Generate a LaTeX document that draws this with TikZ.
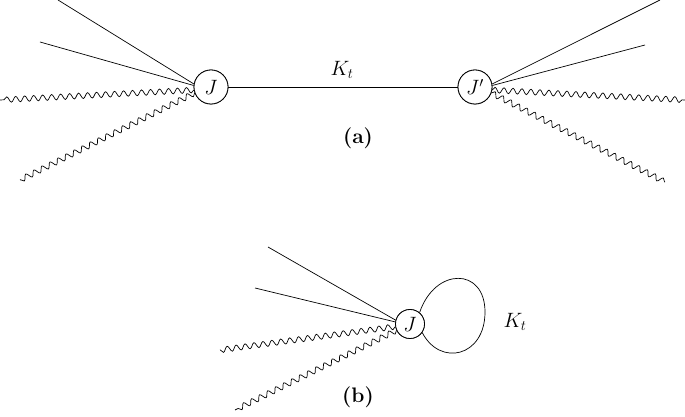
\documentclass[tikz,border=0pt]{standalone}
\usetikzlibrary{decorations.pathmorphing}
\begin{document}
\begin{tikzpicture}[x=1pt,y=1pt,
  big/.style={font=\fontsize{21}{25}\selectfont},
  vtx/.style={circle,draw,thick,fill=white,minimum size=34pt,inner sep=0pt,big},
  vtxs/.style={circle,draw,thick,fill=white,minimum size=29pt,inner sep=0pt,big},
  wavy/.style={decorate,decoration={snake,amplitude=2.8pt,segment length=9pt}},
  ln/.style={line width=0.7pt}]
\useasboundingbox (0,0) rectangle (685,417);
\coordinate (a1) at (58,417); \coordinate (a2) at (40,375);
\coordinate (a3) at (0,317); \coordinate (a4) at (20,237);
\coordinate (b1) at (660,417); \coordinate (b2) at (645,372);
\coordinate (b3) at (685,317); \coordinate (b4) at (665,235);
\coordinate (c1) at (268,170); \coordinate (c2) at (255,129);
\coordinate (c3) at (220,67); \coordinate (c4) at (235,7);
\node[vtx] (J) at (211,330) {$J$};
\node[vtx] (Jp) at (475,330) {$J'$};
\draw[ln] (J) -- (Jp);
\node[big] (K) at (342,347) {$K_t$};
\draw[ln] (a1) -- (J.170); \draw[ln] (a2) -- (J.175);
\draw[ln,wavy] (J.190) -- (a3); \draw[ln,wavy] (J.200) -- (a4);
\draw[ln] (b1) -- (Jp.10); \draw[ln] (b2) -- (Jp.5);
\draw[ln,wavy] (Jp.350) -- (b3); \draw[ln,wavy] (Jp.340) -- (b4);
\node[vtx] at (211,330) {$J$};
\node[vtx] at (475,330) {$J'$};
\node[big,font=\fontsize{21}{25}\selectfont\bfseries] (la) at (358,279) {(a)};
\node[vtxs] (Jb) at (410,93) {$J$};
\draw[ln] (c1) -- (Jb.165); \draw[ln] (c2) -- (Jb.172);
\draw[ln,wavy] (Jb.190) -- (c3); \draw[ln,wavy] (Jb.205) -- (c4);
\draw[ln] (Jb.50) .. controls (435,150) and (485,150) .. (485,105)
  .. controls (485,60) and (440,50) .. (Jb.-35);
\node[vtxs] at (410,93) {$J$};
\node[big] (Kb) at (515,95) {$K_t$};
\node[font=\fontsize{21}{25}\selectfont\bfseries] (lb) at (358,20) {(b)};
\end{tikzpicture}
\end{document}
